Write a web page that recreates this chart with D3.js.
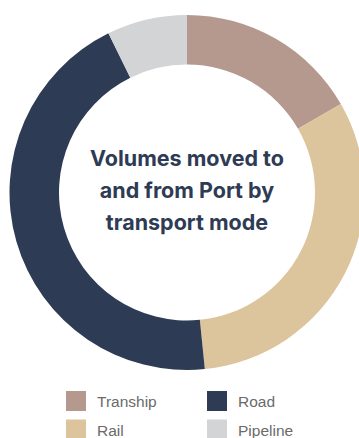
<!DOCTYPE html>
<html>
<head>
<meta charset="utf-8">
<script src="https://cdn.jsdelivr.net/npm/d3@7"></script>
<style>
  html, body { margin: 0; padding: 0; background: #fff; }
  svg { display: block; }
</style>
</head>
<body>
<div id="vis"></div>
<script>
// Donut: volúmenes por modo de transporte (porcentajes)
const MODES  = ["Tranship", "Rail", "Road", "Pipeline"];
const SHARES = [16.7, 31.7, 44.3, 7.3];
const COLORS = ["#b5998f", "#dcc59c", "#2e3b54", "#d3d4d6"];
const TITLE  = ["Volumes moved to", "and from Port by", "transport mode"];

const width = 359, height = 438;
const cx = 187, cy = 192.5, rOuter = 177.5, rInner = 128;

const svg = d3.select("#vis").append("svg")
  .attr("width", width).attr("height", height)
  .attr("viewBox", [0, 0, width, height]);

const color = d3.scaleOrdinal().domain(MODES).range(COLORS);

const data = MODES.map((m, i) => ({ mode: m, value: SHARES[i] }));
const pie = d3.pie().sort(null).value(d => d.value);
const arc = d3.arc().innerRadius(rInner).outerRadius(rOuter);

const gPie = svg.append("g").attr("transform", `translate(${cx},${cy})`);
gPie.selectAll("path")
  .data(pie(data))
  .join("path")
  .attr("d", arc)
  .attr("fill", d => color(d.data.mode));

// título central
gPie.append("text")
  .attr("text-anchor", "middle")
  .attr("font-family", "Inter, Roboto, sans-serif")
  .attr("font-weight", 700)
  .attr("font-size", 21.5)
  .attr("fill", "#2e3b54")
  .selectAll("tspan")
  .data(TITLE)
  .join("tspan")
  .attr("x", 0)
  .attr("y", (_, i) => -26.5 + i * 32)
  .text(d => d);

// leyenda 2x2 (orden por columnas: Tranship/Rail, Road/Pipeline)
const legend = svg.append("g").attr("transform", "translate(66,391)");
const item = legend.selectAll("g")
  .data(MODES)
  .join("g")
  .attr("transform", (_, i) => `translate(${Math.floor(i / 2) * 141},${(i % 2) * 28.5})`);

item.append("rect")
  .attr("width", 20).attr("height", 20)
  .attr("fill", d => color(d));

item.append("text")
  .attr("x", 31).attr("y", 16)
  .attr("font-family", "'Liberation Sans', Arial, sans-serif")
  .attr("font-size", 15.5)
  .attr("fill", "#6b6b6b")
  .text(d => d);
</script>
</body>
</html>
